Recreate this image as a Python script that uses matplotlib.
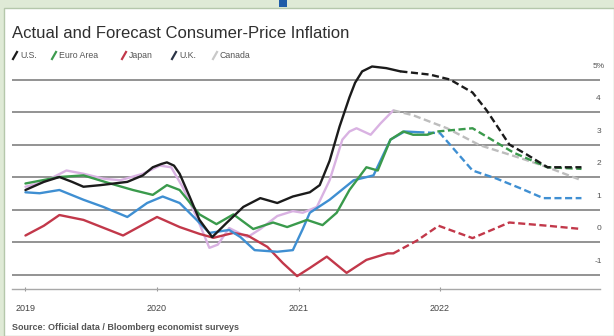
import matplotlib
matplotlib.use("Agg")
import matplotlib.pyplot as plt
from matplotlib.patches import Rectangle
from matplotlib.lines import Line2D

plt.rcParams['font.family'] = ['Liberation Sans', 'DejaVu Sans']

# ---- data (decimal years, % y/y) ----
us_t = [2019.07, 2019.20, 2019.31, 2019.40, 2019.48, 2019.60, 2019.79, 2019.90, 2019.97,
        2020.03, 2020.07, 2020.12, 2020.16, 2020.23, 2020.30, 2020.39, 2020.49, 2020.61,
        2020.73, 2020.85, 2020.96, 2021.08, 2021.15, 2021.22, 2021.29, 2021.36, 2021.40,
        2021.45, 2021.52, 2021.62, 2021.72]
us_v = [1.6, 1.85, 2.0, 1.85, 1.7, 1.75, 1.85, 2.05, 2.3,
        2.4, 2.45, 2.35, 2.1, 1.4, 0.68, 0.15, 0.58, 1.08,
        1.35, 1.2, 1.4, 1.53, 1.75, 2.5, 3.55, 4.45, 4.9,
        5.25, 5.4, 5.35, 5.25]
us_ft = [2021.72, 2021.93, 2022.07, 2022.23, 2022.33, 2022.49, 2022.61, 2022.76, 2023.0]
us_fv = [5.25, 5.15, 5.0, 4.6, 4.05, 3.0, 2.7, 2.3, 2.3]

ea_t = [2019.07, 2019.31, 2019.48, 2019.67, 2019.83, 2019.97, 2020.07, 2020.16, 2020.30,
        2020.42, 2020.54, 2020.68, 2020.82, 2020.92, 2021.06, 2021.17, 2021.27, 2021.36,
        2021.48, 2021.56, 2021.65, 2021.74, 2021.81, 2021.91]
ea_v = [1.8, 2.0, 2.05, 1.8, 1.6, 1.45, 1.75, 1.6, 0.85,
        0.55, 0.85, 0.4, 0.6, 0.46, 0.68, 0.52, 0.9, 1.6,
        2.3, 2.2, 3.15, 3.4, 3.3, 3.3]
ea_ft = [2021.91, 2021.98, 2022.23, 2022.52, 2022.76, 2023.0]
ea_fv = [3.3, 3.4, 3.5, 2.75, 2.3, 2.25]

jp_t = [2019.07, 2019.20, 2019.31, 2019.48, 2019.76, 2020.0, 2020.16, 2020.30, 2020.40,
        2020.54, 2020.64, 2020.78, 2020.89, 2020.99, 2021.08, 2021.20, 2021.34, 2021.48,
        2021.63, 2021.67]
jp_v = [0.2, 0.5, 0.83, 0.68, 0.2, 0.77, 0.46, 0.25, 0.13,
        0.28, 0.2, -0.15, -0.65, -1.05, -0.8, -0.45, -0.95, -0.55,
        -0.35, -0.35]
jp_ft = [2021.67, 2021.84, 2021.99, 2022.23, 2022.49, 2022.76, 2023.0]
jp_fv = [-0.35, 0.05, 0.5, 0.12, 0.6, 0.5, 0.4]

uk_t = [2019.07, 2019.17, 2019.31, 2019.48, 2019.62, 2019.79, 2019.93, 2020.04, 2020.16,
        2020.28, 2020.37, 2020.51, 2020.59, 2020.69, 2020.85, 2020.96, 2021.03, 2021.08,
        2021.22, 2021.39, 2021.53, 2021.65, 2021.75, 2021.84]
uk_v = [1.53, 1.5, 1.6, 1.3, 1.08, 0.77, 1.2, 1.4, 1.2,
        0.68, 0.28, 0.37, 0.15, -0.25, -0.3, -0.25, 0.4, 0.9,
        1.3, 1.9, 2.05, 3.15, 3.4, 3.38]
uk_ft = [2021.84, 2022.0, 2022.23, 2022.40, 2022.57, 2022.73, 2023.0]
uk_fv = [3.38, 3.35, 2.2, 1.95, 1.65, 1.35, 1.35]

ca_t = [2019.07, 2019.20, 2019.36, 2019.48, 2019.62, 2019.74, 2019.90, 2020.02, 2020.10,
        2020.18, 2020.28, 2020.37, 2020.43, 2020.51, 2020.64, 2020.73, 2020.85, 2020.96,
        2021.03, 2021.13, 2021.22, 2021.31, 2021.36, 2021.41, 2021.51, 2021.58, 2021.67]
ca_v = [1.7, 1.85, 2.2, 2.1, 1.95, 1.9, 2.1, 2.35, 2.3,
        1.7, 0.77, -0.18, -0.08, 0.43, 0.15, 0.4, 0.8, 0.95,
        0.9, 1.08, 1.9, 3.15, 3.4, 3.5, 3.3, 3.65, 4.05]
ca_ft = [2021.67, 2021.81, 2022.05, 2022.28, 2022.57, 2022.76, 2023.0]
ca_fv = [4.05, 3.9, 3.5, 2.98, 2.58, 2.3, 1.9]

y_levels = [5, 4, 3, 2, 1, 0, -1]
y_labels = ['5%', '4', '3', '2', '1', '0', '-1']
year_ticks = [2019.07, 2020, 2021, 2022]
year_labels = ['2019', '2020', '2021', '2022']

legend_names = ['U.S.', 'Euro Area', 'Japan', 'U.K.', 'Canada']
legend_colors = ['#1b1b1b', '#3d9b4f', '#c2384a', '#2b3446', '#c9c9c9']

C_US, C_EA, C_JP, C_UK, C_CA, C_CAF = '#1b1b1b', '#3a9a4c', '#c2384a', '#3f8fd2', '#d9b2e2', '#bdbdbd'

W, H = 614, 336
fig = plt.figure(figsize=(W / 100, H / 100), dpi=100)
fig.patch.set_facecolor('#dfead6')

# white card with a thin frame, kept beneath the axes
fig.patches.append(Rectangle((4 / W, 0), 1 - 4 / W, 1 - 8 / H, transform=fig.transFigure,
                             facecolor='white', edgecolor='#b5c7ab', linewidth=1.0, zorder=-5))
fig.patches.append(Rectangle((279 / W, 1 - 7 / H), 8 / W, 7 / H, transform=fig.transFigure,
                             facecolor='#1f5ca8', edgecolor='none', zorder=-4))

ax = fig.add_axes([12 / W, 1 - 289 / H, (600 - 12) / W, (289 - 60) / H])
ax.set_facecolor('none')
ax.patch.set_alpha(0)
ax.set_xlim(2018.975, 2023.131)
ax.set_ylim(-1.446, 5.6)

for lv in y_levels:
    ax.axhline(lv, color='#939393', lw=1.4, zorder=1)
for spine in ['top', 'right', 'left']:
    ax.spines[spine].set_visible(False)
ax.spines['bottom'].set_color('#a8a8a8')
ax.spines['bottom'].set_linewidth(1.0)
ax.set_yticks([])
ax.set_xticks(year_ticks)
ax.set_xticklabels(year_labels, fontsize=6.5, color='#444444')
ax.tick_params(axis='x', length=3, width=0.8, color='#999999', pad=9, direction='inout')

for lv, lab in zip(y_levels, y_labels):
    ax.annotate(lab, xy=(1.0, lv), xycoords=('axes fraction', 'data'),
                xytext=(-1, 7), textcoords='offset points',
                ha='center', va='bottom', fontsize=6, color='#555555')

lw = 1.7
series = [
    (ca_t, ca_v, ca_ft, ca_fv, C_CA, C_CAF),
    (jp_t, jp_v, jp_ft, jp_fv, C_JP, C_JP),
    (uk_t, uk_v, uk_ft, uk_fv, C_UK, C_UK),
    (ea_t, ea_v, ea_ft, ea_fv, C_EA, C_EA),
    (us_t, us_v, us_ft, us_fv, C_US, C_US),
]
for t, v, ft, fv, c, fc in series:
    ax.plot(t, v, color=c, lw=lw, solid_joinstyle='round', solid_capstyle='round', zorder=3)
    ax.plot(ft, fv, color=fc, lw=lw, linestyle=(0, (3, 1.5)), zorder=3)

fig.text(12 / W, 1 - 33 / H, 'Actual and Forecast Consumer-Price Inflation',
         fontsize=12, color='#2f2f2f', va='center', ha='left')

# legend row
lx = [13, 52, 122, 172, 213]
for x0, name, col in zip(lx, legend_names, legend_colors):
    fig.lines.append(Line2D([x0 / W, (x0 + 4) / W], [1 - 59 / H, 1 - 52 / H],
                            transform=fig.transFigure, color=col, lw=1.6))
    fig.text((x0 + 7) / W, 1 - 55.5 / H, name, fontsize=6.3, color='#555555',
             va='center', ha='left')

fig.text(12 / W, 1 - 327 / H, 'Source: Official data / Bloomberg economist surveys',
         fontsize=6.5, color='#555555', va='center', ha='left', fontweight='bold')

fig.savefig('out.png', dpi=100, facecolor=fig.get_facecolor())
